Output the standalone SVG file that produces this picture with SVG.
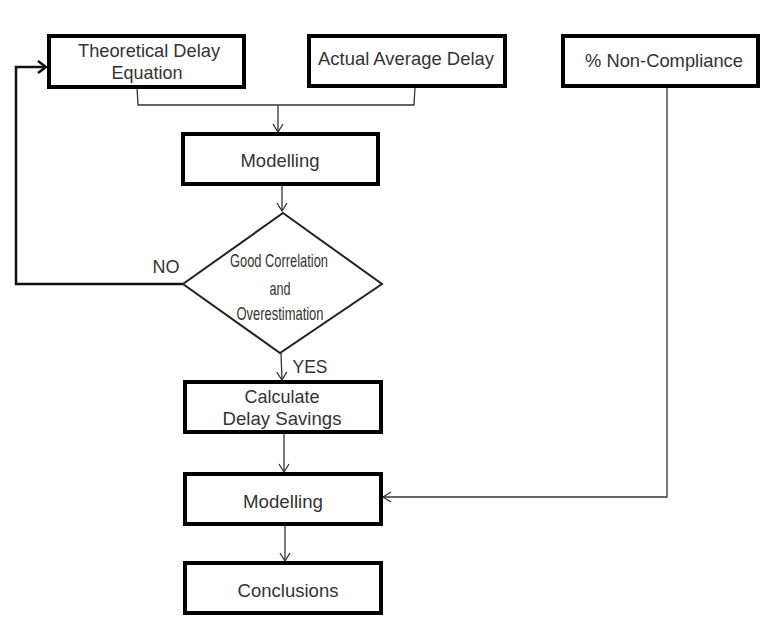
<svg xmlns="http://www.w3.org/2000/svg" width="761" height="636" viewBox="0 0 761 636">
<style>
.box{fill:#fff;stroke:#000;stroke-width:4}
.dia{fill:#fff;stroke:#222;stroke-width:2}
.t{font-family:"Liberation Sans",Arial,sans-serif;font-size:19px;fill:#333;text-anchor:middle}
.d{font-size:19px}
.c{fill:none;stroke:#333;stroke-width:1.3}
.ct{fill:none;stroke:#111;stroke-width:2.5}
</style>
<defs>
<marker id="a" markerWidth="12" markerHeight="12" refX="10" refY="6" orient="auto" markerUnits="userSpaceOnUse">
<path d="M2,1 L10,6 L2,11" fill="none" stroke="#333" stroke-width="1.3"/>
</marker>
<marker id="b" markerWidth="14" markerHeight="14" refX="11" refY="7" orient="auto" markerUnits="userSpaceOnUse">
<path d="M3,1 L11,7 L3,13" fill="none" stroke="#111" stroke-width="2.5"/>
</marker>
</defs>
<rect width="761" height="636" fill="#fff"/>
<g id="connectors">
<path class="c" d="M137,87 L138,105 L414,105 L415,87"/>
<path class="c" d="M278,105 L278,132" marker-end="url(#a)"/>
<path class="c" d="M282,184 L282,211" marker-end="url(#a)"/>
<path class="ct" d="M183,284 L16,284 L16,67 L46,67" marker-end="url(#b)"/>
<path class="c" d="M281,353 L282,380" marker-end="url(#a)"/>
<path class="c" d="M284,432 L284,472" marker-end="url(#a)"/>
<path class="c" d="M285,524 L285,561" marker-end="url(#a)"/>
<path class="c" d="M667,86 L667,497 L383,497" marker-end="url(#a)"/>
</g>
<g id="n1"><rect class="box" x="49" y="36" width="195" height="51"/>
<text class="t" x="149" y="57" textLength="142" lengthAdjust="spacingAndGlyphs">Theoretical Delay</text>
<text class="t" x="147" y="79" textLength="71" lengthAdjust="spacingAndGlyphs">Equation</text></g>
<g id="n2"><rect class="box" x="309" y="36" width="196" height="50"/>
<text class="t" x="406" y="65" textLength="176" lengthAdjust="spacingAndGlyphs">Actual Average Delay</text></g>
<g id="n3"><rect class="box" x="563" y="36" width="195" height="50"/>
<text class="t" x="664" y="67" textLength="158" lengthAdjust="spacingAndGlyphs">% Non-Compliance</text></g>
<g id="n4"><rect class="box" x="183" y="134" width="195" height="50"/>
<text class="t" x="280" y="167" textLength="79" lengthAdjust="spacingAndGlyphs">Modelling</text></g>
<g id="n5"><polygon class="dia" points="283,213 382,284 280,353 183,284"/>
<text class="t d" x="279" y="267" textLength="98" lengthAdjust="spacingAndGlyphs">Good Correlation</text>
<text class="t d" x="280" y="295" textLength="21" lengthAdjust="spacingAndGlyphs">and</text>
<text class="t d" x="280" y="320" textLength="87" lengthAdjust="spacingAndGlyphs">Overestimation</text></g>
<text class="t" x="166" y="273" textLength="27" lengthAdjust="spacingAndGlyphs">NO</text>
<text class="t" x="310" y="373" textLength="35" lengthAdjust="spacingAndGlyphs">YES</text>
<g id="n6"><rect class="box" x="185" y="382" width="196" height="50"/>
<text class="t" x="282" y="403" textLength="75" lengthAdjust="spacingAndGlyphs">Calculate</text>
<text class="t" x="282" y="425" textLength="119" lengthAdjust="spacingAndGlyphs">Delay Savings</text></g>
<g id="n7"><rect class="box" x="185" y="474" width="196" height="50"/>
<text class="t" x="283" y="508" textLength="80" lengthAdjust="spacingAndGlyphs">Modelling</text></g>
<g id="n8"><rect class="box" x="185" y="563" width="196" height="50"/>
<text class="t" x="288" y="597" textLength="101" lengthAdjust="spacingAndGlyphs">Conclusions</text></g>
</svg>
